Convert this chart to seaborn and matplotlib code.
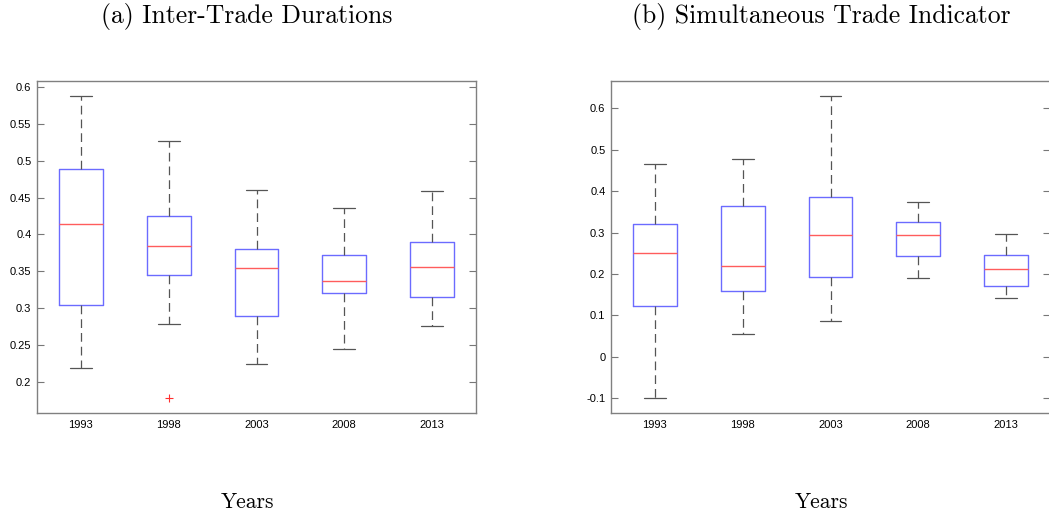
import numpy as np
import matplotlib
matplotlib.use("Agg")
import matplotlib.pyplot as plt
import seaborn as sns
from matplotlib.ticker import FixedLocator, FuncFormatter

years = ["1993", "1998", "2003", "2008", "2013"]

# (a) Inter-Trade Durations
dur_whislo = [0.219, 0.279, 0.224, 0.245, 0.276]
dur_q1     = [0.304, 0.345, 0.289, 0.320, 0.315]
dur_med    = [0.414, 0.385, 0.355, 0.337, 0.356]
dur_q3     = [0.489, 0.425, 0.380, 0.372, 0.390]
dur_whishi = [0.588, 0.526, 0.460, 0.436, 0.459]
dur_fliers = [[], [0.178], [], [], []]

# (b) Simultaneous Trade Indicator
sim_whislo = [-0.100, 0.055, 0.086, 0.191, 0.143]
sim_q1     = [0.122, 0.158, 0.192, 0.243, 0.171]
sim_med    = [0.250, 0.219, 0.295, 0.294, 0.211]
sim_q3     = [0.320, 0.364, 0.387, 0.325, 0.245]
sim_whishi = [0.465, 0.478, 0.629, 0.373, 0.297]
sim_fliers = [[], [], [], [], []]

sns.set_style("white")
plt.rcParams["axes.unicode_minus"] = False
plt.rcParams["font.family"] = ["Liberation Sans", "DejaVu Sans"]
plt.rcParams["text.color"] = "black"
plt.rcParams["xtick.color"] = "black"
plt.rcParams["ytick.color"] = "black"

fig = plt.figure(figsize=(10.49, 5.18), dpi=100)
ax1 = fig.add_axes([37/1049, 1-413/518, 439/1049, 332/518])
ax2 = fig.add_axes([611/1049, 1-413/518, 439/1049, 332/518])

def make_stats(lo, q1, med, q3, hi, fl):
    out = []
    for i in range(len(years)):
        out.append(dict(whislo=lo[i], q1=q1[i], med=med[i], q3=q3[i],
                        whishi=hi[i], fliers=fl[i], label=years[i]))
    return out

def draw(ax, stats, ylim, ticks):
    ax.bxp(stats, positions=range(1, len(years)+1), widths=0.5,
           showfliers=True, patch_artist=False,
           boxprops=dict(color="#6b6bff", linewidth=1.0),
           medianprops=dict(color="#ff5c5c", linewidth=1.0),
           whiskerprops=dict(color="#555555", linewidth=0.9, linestyle=(0, (7, 4))),
           capprops=dict(color="#555555", linewidth=0.9),
           flierprops=dict(marker="+", markeredgecolor="#ff3030", markersize=6,
                           linestyle="none", markeredgewidth=0.8))
    ax.set_xlim(0.5, 5.5)
    ax.set_ylim(*ylim)
    ax.yaxis.set_major_locator(FixedLocator(ticks))
    ax.yaxis.set_major_formatter(FuncFormatter(lambda v, p: ("%g" % round(v, 3))))
    ax.set_xticks(range(1, len(years)+1))
    ax.set_xticklabels(years)
    ax.tick_params(axis="y", direction="in", length=5, width=0.8, color="#777777",
                   labelcolor="black", labelsize=8, pad=4, left=True, right=True,
                   labelright=False)
    ax.tick_params(axis="x", length=0, labelsize=8, pad=5, labelcolor="black")
    for s in ax.spines.values():
        s.set_color("#808080")
        s.set_linewidth(1.0)
        s.set_visible(True)
    ax.set_facecolor("white")

draw(ax1, make_stats(dur_whislo, dur_q1, dur_med, dur_q3, dur_whishi, dur_fliers),
     (0.158, 0.608), [0.2, 0.25, 0.3, 0.35, 0.4, 0.45, 0.5, 0.55, 0.6])
draw(ax2, make_stats(sim_whislo, sim_q1, sim_med, sim_q3, sim_whishi, sim_fliers),
     (-0.1355, 0.666), [-0.1, 0, 0.1, 0.2, 0.3, 0.4, 0.5, 0.6])

serif = ["cmr10", "DejaVu Serif"]
fig.text(247/1049, 1-17/518, "(a) Inter-Trade Durations", ha="center", va="center",
         fontsize=18.5, family=serif, color="black")
fig.text(821/1049, 1-17/518, "(b) Simultaneous Trade Indicator", ha="center", va="center",
         fontsize=18.5, family=serif, color="black")
fig.text(247/1049, 1-502/518, "Years", ha="center", va="center",
         fontsize=15.5, family=serif, color="black")
fig.text(821/1049, 1-502/518, "Years", ha="center", va="center",
         fontsize=15.5, family=serif, color="black")

fig.savefig("out.png", dpi=100)
